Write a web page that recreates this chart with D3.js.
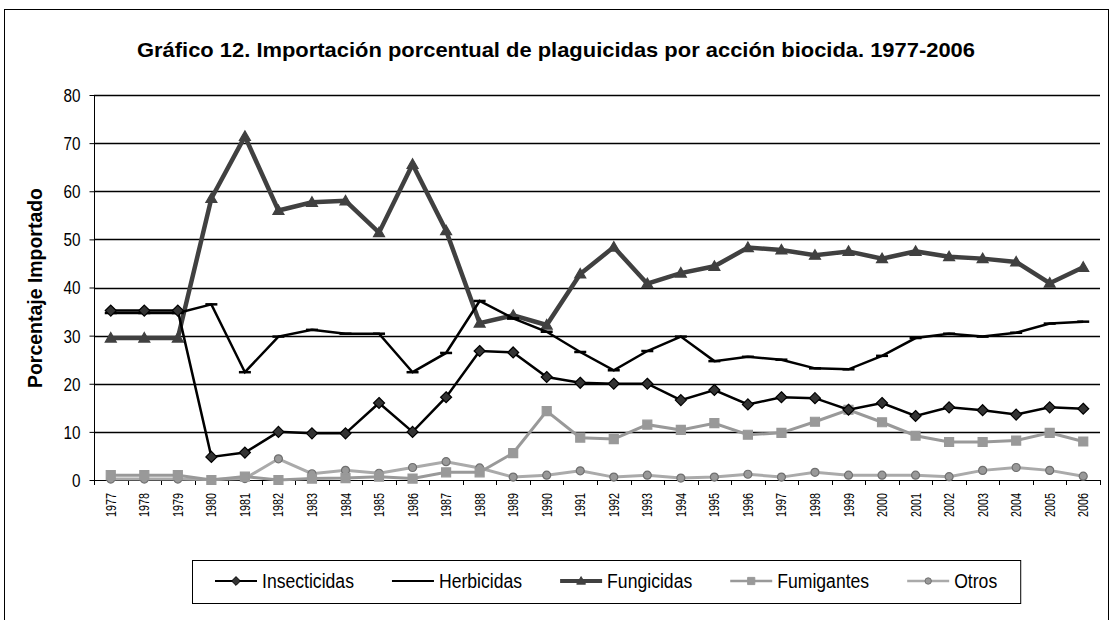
<!DOCTYPE html>
<html>
<head>
<meta charset="utf-8">
<script src="https://cdn.jsdelivr.net/npm/d3@7"></script>
<style>
  body { margin: 0; background: #fff; }
  svg { font-family: "Liberation Sans", Arial, sans-serif; }
</style>
</head>
<body>
<div id="chart"></div>
<script>
var years = d3.range(1977, 2007).map(String);
var yTicks = [0, 10, 20, 30, 40, 50, 60, 70, 80];

var insecticidas = [35.2, 35.2, 35.2, 4.8, 5.7, 10, 9.7, 9.7, 16, 10, 17.2, 26.8, 26.5, 21.4, 20.2, 20, 20, 16.6, 18.7, 15.7, 17.2, 17, 14.6, 16, 13.3, 15.1, 14.5, 13.6, 15.1, 14.8];
var herbicidas = [34.7, 34.7, 34.7, 36.5, 22.4, 29.8, 31.2, 30.4, 30.4, 22.4, 26.4, 37.2, 33.6, 30.8, 26.6, 22.8, 26.8, 29.8, 24.7, 25.6, 25, 23.2, 23, 25.8, 29.5, 30.4, 29.8, 30.6, 32.5, 32.9];
var fungicidas = [29.5, 29.5, 29.5, 58.5, 71.4, 56, 57.7, 58, 51.4, 65.6, 51.8, 32.6, 34.2, 32.2, 42.8, 48.4, 40.8, 43, 44.4, 48.3, 47.8, 46.7, 47.5, 46, 47.5, 46.4, 46, 45.3, 40.9, 44.2];
var fumigantes = [1, 1, 1, 0, 0.7, 0, 0.3, 0.4, 0.7, 0.3, 1.6, 1.6, 5.6, 14.3, 8.8, 8.5, 11.5, 10.4, 11.8, 9.4, 9.8, 12.1, 14.6, 12, 9.2, 7.9, 7.9, 8.2, 9.8, 8];
var otros = [0.2, 0.2, 0.2, 0.1, 0.3, 4.4, 1.3, 2, 1.4, 2.6, 3.8, 2.5, 0.6, 1, 1.9, 0.6, 1, 0.4, 0.6, 1.2, 0.6, 1.6, 1, 1, 1, 0.7, 2, 2.6, 2, 0.8];

var series = [
  { name: 'Insecticidas', values: insecticidas, stroke: '#000', width: 2.5, marker: 'diamond', fill: '#333', mstroke: '#000' },
  { name: 'Herbicidas', values: herbicidas, stroke: '#000', width: 2.5, marker: 'dash', fill: '#000', mstroke: '#000' },
  { name: 'Fungicidas', values: fungicidas, stroke: '#404040', width: 4.5, marker: 'triangle', fill: '#404040', mstroke: '#404040' },
  { name: 'Fumigantes', values: fumigantes, stroke: '#999', width: 3, marker: 'square', fill: '#999', mstroke: '#999' },
  { name: 'Otros', values: otros, stroke: '#aaa', width: 3, marker: 'circle', fill: '#999', mstroke: '#707070' }
];

var W = 1111, H = 620;
var svg = d3.select('#chart').append('svg')
  .attr('width', W)
  .attr('height', H);

// squeeze a text horizontally, the reference uses a narrow face
function narrow(sel, k) {
  sel.each(function () {
    var w = this.getComputedTextLength();
    d3.select(this).attr('textLength', w * k).attr('lengthAdjust', 'spacingAndGlyphs');
  });
}

// outer frame
svg.append('rect')
  .attr('x', 4.5).attr('y', 9.5)
  .attr('width', 1104).attr('height', 700)
  .attr('fill', 'none').attr('stroke', '#000').attr('stroke-width', 1);

var pLeft = 94, pRight = 1100, pTop = 95, pBottom = 480;

var x = d3.scaleBand().domain(years).range([pLeft, pRight]);
var y = d3.scaleLinear().domain([0, 80]).range([pBottom, pTop]);

// title
svg.append('text')
  .attr('x', 556).attr('y', 57)
  .attr('text-anchor', 'middle')
  .attr('font-size', 21).attr('font-weight', 'bold')
  .attr('textLength', 838).attr('lengthAdjust', 'spacingAndGlyphs')
  .text('Gráfico 12. Importación porcentual de plaguicidas por acción biocida. 1977-2006');

// gridlines
svg.append('g')
  .selectAll('line')
  .data(yTicks.filter(function (d) { return d > 0; }))
  .enter()
  .append('line')
  .attr('x1', pLeft).attr('x2', pRight)
  .attr('y1', function (d) { return Math.round(y(d)) + 0.5; })
  .attr('y2', function (d) { return Math.round(y(d)) + 0.5; })
  .attr('stroke', '#000').attr('stroke-width', 1.3);

// y axis
var yAxis = svg.append('g')
  .attr('transform', 'translate(' + (pLeft + 0.5) + ',0)')
  .call(d3.axisLeft(y).tickValues(yTicks).tickSize(5).tickPadding(9));
yAxis.selectAll('text').attr('font-size', 18).attr('fill', '#000')
  .attr('font-family', null).attr('dy', '0.36em');
narrow(yAxis.selectAll('text'), 0.85);
yAxis.selectAll('.tick line').attr('stroke', '#000');
yAxis.select('.domain').attr('stroke', '#000').attr('d', 'M0,' + pTop + 'V' + pBottom);

svg.append('text')
  .attr('transform', 'translate(42,' + 288 + ') rotate(-90)')
  .attr('text-anchor', 'middle')
  .attr('font-size', 21).attr('font-weight', 'bold')
  .attr('textLength', 200).attr('lengthAdjust', 'spacingAndGlyphs')
  .text('Porcentaje Importado');

// x axis: ticks at band boundaries
var xg = svg.append('g');
xg.append('line')
  .attr('x1', pLeft).attr('x2', pRight)
  .attr('y1', pBottom + 0.5).attr('y2', pBottom + 0.5)
  .attr('stroke', '#000');
xg.selectAll('line.tick')
  .data(years.concat(['end']))
  .enter()
  .append('line')
  .attr('class', 'tick')
  .attr('x1', function (d, i) { return Math.round(pLeft + i * x.bandwidth()) + 0.5; })
  .attr('x2', function (d, i) { return Math.round(pLeft + i * x.bandwidth()) + 0.5; })
  .attr('y1', pBottom).attr('y2', pBottom + 5)
  .attr('stroke', '#000');
xg.selectAll('text')
  .data(years)
  .enter()
  .append('text')
  .attr('transform', function (d) {
    return 'translate(' + (x(d) + x.bandwidth() / 2 + 5) + ',' + (pBottom + 13) + ') rotate(-90)';
  })
  .attr('text-anchor', 'end')
  .attr('font-size', 14)
  .attr('textLength', 24).attr('lengthAdjust', 'spacingAndGlyphs')
  .text(function (d) { return d; });

// lines
var line = d3.line()
  .x(function (d, i) { return x(years[i]) + x.bandwidth() / 2; })
  .y(function (d) { return y(d); });

var markerPaths = {
  diamond: 'M0,-5.5L5.5,0L0,5.5L-5.5,0Z',
  triangle: 'M0,-5.5L5.5,4L-5.5,4Z',
  square: 'M-4.5,-4.5H4.5V4.5H-4.5Z',
  circle: 'M4,0A4,4 0 1,1 -4,0A4,4 0 1,1 4,0Z'
};

function drawMarker(sel, s) {
  if (s.marker === 'dash') {
    sel.append('line')
      .attr('x1', -6).attr('x2', 6).attr('y1', 0).attr('y2', 0)
      .attr('stroke', '#000').attr('stroke-width', 2.5);
  } else {
    sel.append('path')
      .attr('d', markerPaths[s.marker])
      .attr('fill', s.fill)
      .attr('stroke', s.mstroke)
      .attr('stroke-width', 1.2);
  }
}

// draw in reverse so Insecticidas is on top
series.slice().reverse().forEach(function (s) {
  var g = svg.append('g');
  g.append('path')
    .datum(s.values)
    .attr('d', line)
    .attr('fill', 'none')
    .attr('stroke', s.stroke)
    .attr('stroke-width', s.width)
    .attr('stroke-linejoin', 'miter');
  g.selectAll('g.m')
    .data(s.values)
    .enter()
    .append('g')
    .attr('class', 'm')
    .attr('transform', function (d, i) {
      return 'translate(' + (x(years[i]) + x.bandwidth() / 2) + ',' + y(d) + ')';
    })
    .each(function () { drawMarker(d3.select(this), s); });
});

// legend
var lg = svg.append('g');
var box = lg.append('rect')
  .attr('x', 192.5).attr('y', 560.5)
  .attr('height', 43)
  .attr('fill', '#fff').attr('stroke', '#000');
var cx = 215;
series.forEach(function (s) {
  var item = lg.append('g').attr('transform', 'translate(' + cx + ',581)');
  item.append('line')
    .attr('x1', 0).attr('x2', 42)
    .attr('stroke', s.stroke).attr('stroke-width', s.width - 0.5);
  var m = item.append('g').attr('transform', 'translate(21,0) scale(0.8)');
  drawMarker(m, s);
  var t = item.append('text')
    .attr('x', 47).attr('y', 7)
    .attr('font-size', 20)
    .text(s.name);
  narrow(t, 0.88);
  cx += 47 + (+t.attr('textLength')) + 38;
});
box.attr('width', cx - 38 + 23 - 192);
</script>
</body>
</html>
